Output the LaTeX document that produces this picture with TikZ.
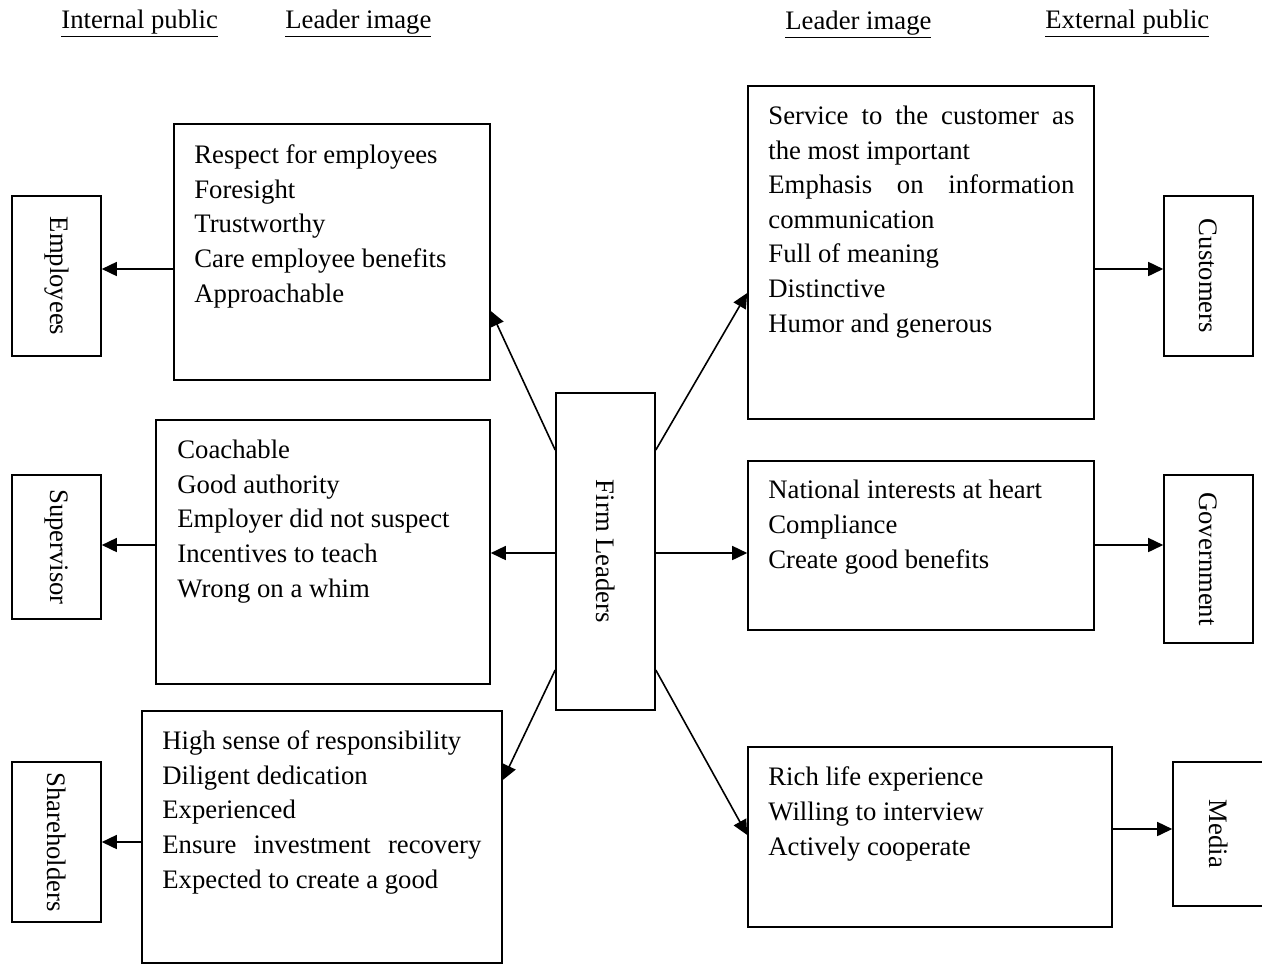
\documentclass[tikz,border=0pt]{standalone}
\usepackage{fontspec}
\setmainfont{Liberation Serif}
\usetikzlibrary{arrows.meta,fit}
\begin{document}
\begin{tikzpicture}[x=0.5pt,y=-0.5pt,
  every node/.style={font=\fontsize{13.35}{17.3}\selectfont},
  box/.style={draw,line width=0.8pt,inner sep=0pt,rectangle},
  txt/.style={inner sep=0pt,anchor=base west,align=left},
  hdr/.style={inner sep=0pt,anchor=base west},
  arr/.style={line width=0.8pt,-{Triangle[length=7.5pt,width=7pt]}}]
\useasboundingbox (0,0) rectangle (1262,964);
% headers
\node[hdr] (h1) at (61,28) {\underline{Internal public}};
\node[hdr] (h2) at (285,28) {\underline{Leader image}};
\node[hdr] (h3) at (785,29) {\underline{Leader image}};
\node[hdr] (h4) at (1045,28) {\underline{External public}};
% public boxes
\node[box,fit={(12,196) (101,356)}] (emp) {\rotatebox{-90}{Employees}};
\node[box,fit={(12,475) (101,619)}] (sup) {\rotatebox{-90}{Supervisor}};
\node[box,fit={(12,762) (101,922)}] (sha) {\rotatebox{-90}{Shareholders}};
\node[box,fit={(1164,196) (1253,356)}] (cus) {\rotatebox{-90}{Customers}};
\node[box,fit={(1164,475) (1253,643)}] (gov) {\rotatebox{-90}{Government}};
\node[box,fit={(1173,762) (1264,906)}] (med) {\rotatebox{-90}{Media}};
% firm leaders
\node[box,fit={(556,393) (655,710)}] (firm) {\rotatebox{-90}{Firm Leaders}};
% image boxes
\node[box,fit={(174,124) (490,380)}] (b1) {};
\node[box,fit={(156,420) (490,684)}] (b2) {};
\node[box,fit={(142,711) (502,963)}] (b3) {};
\node[box,fit={(748,86) (1094,419)}] (r1) {};
\node[box,fit={(748,461) (1094,630)}] (r2) {};
\node[box,fit={(748,747) (1112,927)}] (r3) {};
% texts (anchored at the baseline of the last line)
\node[txt] (b1t) at (194,302) {Respect for employees\\Foresight\\Trustworthy\\Care employee benefits\\Approachable};
\node[txt] (b2t) at (177,597) {Coachable\\Good authority\\Employer did not suspect\\Incentives to teach\\Wrong on a whim};
\node[txt] (b3t) at (162,888) {High sense of responsibility\\Diligent dedication\\Experienced\\\makebox[159.5pt][s]{Ensure investment recovery}\\Expected to create a good};
\node[txt] (r1t) at (768,332) {\makebox[153pt][s]{Service to the customer as}\\the most important\\\makebox[153pt][s]{Emphasis on information}\\communication\\Full of meaning\\Distinctive\\Humor and generous};
\node[txt] (r2t) at (768,568) {National interests at heart\\Compliance\\Create good benefits};
\node[txt] (r3t) at (768,855) {Rich life experience\\Willing to interview\\Actively cooperate};
% connectors
\draw[arr] (b1.west |- 0,269) -- (emp.east |- 0,269);
\draw[arr] (b2.west |- 0,545) -- (sup.east |- 0,545);
\draw[arr] (b3.west |- 0,842) -- (sha.east |- 0,842);
\draw[arr] (firm.west |- 0,553) -- (b2.east |- 0,553);
\draw[arr] (firm.east |- 0,553) -- (r2.west |- 0,553);
\draw[arr] (firm.west |- 0,450) -- (b1.east |- 0,311);
\draw[arr] (firm.east |- 0,450) -- (r1.west |- 0,293);
\draw[arr] (firm.west |- 0,670) -- (b3.east |- 0,780);
\draw[arr] (firm.east |- 0,670) -- (r3.west |- 0,835);
\draw[arr] (r1.east |- 0,269) -- (cus.west |- 0,269);
\draw[arr] (r2.east |- 0,545) -- (gov.west |- 0,545);
\draw[arr] (r3.east |- 0,829) -- (med.west |- 0,829);
\end{tikzpicture}
\end{document}
